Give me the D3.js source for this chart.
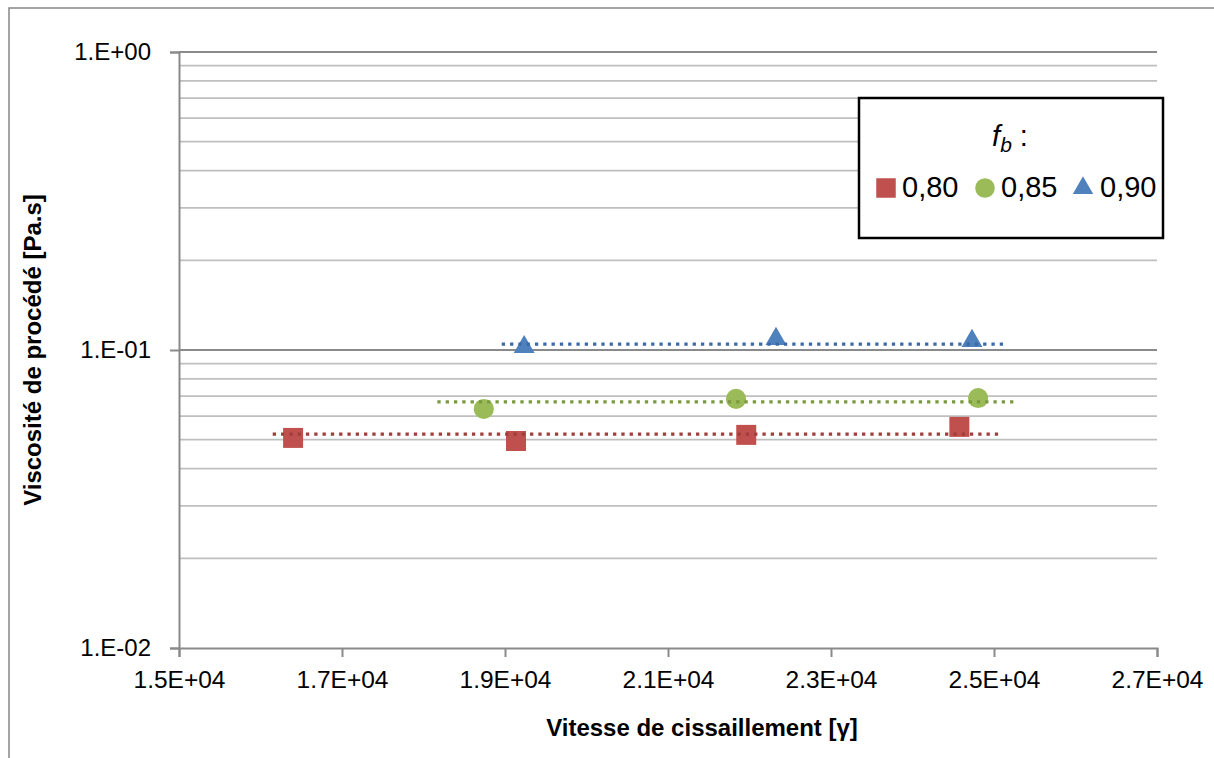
<!DOCTYPE html>
<html>
<head>
<meta charset="utf-8">
<script src="https://cdn.jsdelivr.net/npm/d3@7"></script>
<style>
  html, body { margin: 0; padding: 0; background: #fff; }
  svg { display: block; font-family: "Liberation Sans", Arial, sans-serif; }
</style>
</head>
<body>
<svg id="chart" width="1214" height="758"></svg>
<script>
// ---- data ----
const seriesNames = ["0,80", "0,85", "0,90"];
const xRed = [16400, 19135, 21960, 24575];
const yRed = [0.0507, 0.0495, 0.0519, 0.0552];
const xGreen = [18740, 21835, 24805];
const yGreen = [0.0634, 0.0685, 0.0690];
const xBlue = [19235, 22325, 24730];
const yBlue = [0.1023, 0.1089, 0.1073];
// trend lines (dotted): level and x-extent
const trendLevel = [0.0522, 0.0670, 0.1047];
const trendStart = [16150, 18170, 18960];
const trendEnd = [25050, 25260, 25120];
const xTicks = [15000, 17000, 19000, 21000, 23000, 25000, 27000];
const xTickLabels = ["1.5E+04", "1.7E+04", "1.9E+04", "2.1E+04", "2.3E+04", "2.5E+04", "2.7E+04"];
const yTicks = [0.01, 0.1, 1];
const yTickLabels = ["1.E-02", "1.E-01", "1.E+00"];
const xTitle = "Vitesse de cissaillement [γ]";
const yTitle = "Viscosité de procédé [Pa.s]";

const markerColors = ["#C0504D", "#9BBB59", "#4F81BD"];
const trendColors = ["#A13D3B", "#7A9A3E", "#3D6AA6"];
const shapes = [d3.symbolSquare, d3.symbolCircle, d3.symbolTriangle];

const svg = d3.select("#chart");
const W = 1214, H = 758;
const plot = { left: 179, right: 1157, top: 52, bottom: 648 };

// outer chart border
svg.append("rect").attr("x", 9).attr("y", 8).attr("width", W + 20).attr("height", H + 20)
  .attr("fill", "#fff").attr("stroke", "#868686").attr("stroke-width", 1.5);

const x = d3.scaleLinear().domain([15000, 27000]).range([plot.left, plot.right]);
const y = d3.scaleLog().domain([0.01, 1]).range([plot.bottom, plot.top]);

// gridlines
const minor = [];
for (let e = -2; e < 0; e++) {
  for (let m = 2; m <= 9; m++) minor.push(m * Math.pow(10, e));
}
svg.append("g").selectAll("line").data(minor).join("line")
  .attr("x1", plot.left).attr("x2", plot.right)
  .attr("y1", d => y(d)).attr("y2", d => y(d))
  .attr("stroke", "#bfbfbf").attr("stroke-width", 1.7);
svg.append("g").selectAll("line").data(yTicks.slice(1)).join("line")
  .attr("x1", plot.left).attr("x2", plot.right)
  .attr("y1", d => y(d)).attr("y2", d => y(d))
  .attr("stroke", "#8a8a8a").attr("stroke-width", 2);

// axes
const yAxis = d3.axisLeft(y).tickValues(yTicks).tickSize(9).tickPadding(10)
  .tickFormat((d, i) => yTickLabels[i]);
const gy = svg.append("g").attr("transform", `translate(${plot.left},0)`).call(yAxis);
gy.select(".domain").attr("stroke", "#8a8a8a").attr("stroke-width", 2);
gy.selectAll(".tick line").attr("stroke", "#8a8a8a").attr("stroke-width", 2);
gy.selectAll(".tick text").attr("font-size", 24).attr("fill", "#000")
  .attr("font-family", "Liberation Sans, Arial, sans-serif").attr("dx", -9);

const xAxis = d3.axisBottom(x).tickValues(xTicks).tickSize(9).tickPadding(14)
  .tickFormat((d, i) => xTickLabels[i]);
const gx = svg.append("g").attr("transform", `translate(0,${plot.bottom})`).call(xAxis);
gx.select(".domain").attr("stroke", "#8a8a8a").attr("stroke-width", 2);
gx.selectAll(".tick line").attr("stroke", "#8a8a8a").attr("stroke-width", 2);
gx.selectAll(".tick text").attr("font-size", 24.5).attr("fill", "#000")
  .attr("font-family", "Liberation Sans, Arial, sans-serif");

// axis titles
svg.append("text").attr("x", 702).attr("y", 736).attr("text-anchor", "middle")
  .attr("font-weight", "bold").attr("font-size", 24).text(xTitle);
svg.append("text").attr("transform", `translate(41,350) rotate(-90)`).attr("text-anchor", "middle")
  .attr("font-weight", "bold").attr("font-size", 24).text(yTitle);

// markers
const series = [
  { xs: xRed, ys: yRed },
  { xs: xGreen, ys: yGreen },
  { xs: xBlue, ys: yBlue }
];
const symSizes = [400, 320, 190];
series.forEach((s, i) => {
  const pts = s.xs.map((v, j) => [v, s.ys[j]]);
  svg.append("g").selectAll("path").data(pts).join("path")
    .attr("transform", d => `translate(${x(d[0])},${y(d[1])})`)
    .attr("d", d3.symbol().type(shapes[i]).size(symSizes[i]))
    .attr("fill", markerColors[i]);
});

// trend lines (drawn on top)
trendLevel.forEach((lv, i) => {
  svg.append("line")
    .attr("x1", x(trendStart[i])).attr("x2", x(trendEnd[i]))
    .attr("y1", y(lv)).attr("y2", y(lv))
    .attr("stroke", trendColors[i]).attr("stroke-width", 3.3)
    .attr("stroke-dasharray", "3.3,5");
});

// legend
const lg = svg.append("g");
lg.append("rect").attr("x", 859).attr("y", 98).attr("width", 304).attr("height", 140)
  .attr("fill", "#fff").attr("stroke", "#000").attr("stroke-width", 2.5);
const lt = lg.append("text").attr("x", 1010).attr("y", 146).attr("text-anchor", "middle")
  .attr("font-size", 29);
lt.append("tspan").attr("font-style", "italic").text("f");
lt.append("tspan").attr("font-style", "italic").attr("font-size", 21).attr("dy", 6).text("b");
lt.append("tspan").attr("dy", -6).text(" :");

const legX = [886, 985, 1083];
const legTextX = [902, 1001, 1100];
seriesNames.forEach((n, i) => {
  lg.append("path").attr("transform", `translate(${legX[i]},188)`)
    .attr("d", d3.symbol().type(shapes[i]).size(symSizes[i] * 0.95))
    .attr("fill", markerColors[i]);
  lg.append("text").attr("x", legTextX[i]).attr("y", 197).attr("font-size", 29)
    .attr("fill", "#000").text(n);
});
</script>
</body>
</html>
